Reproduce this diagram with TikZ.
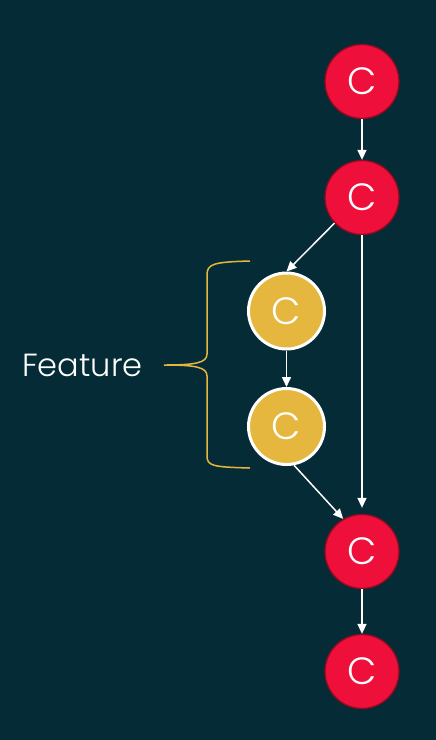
\documentclass[tikz,border=0pt]{standalone}
\usepackage{fontspec}
\setmainfont{Poppins}[UprightFont=* Light]
\usetikzlibrary{arrows.meta}
\definecolor{bg}{HTML}{052B36}
\definecolor{redfill}{HTML}{EE0F3A}
\definecolor{redline}{HTML}{8E0B20}
\definecolor{gold}{HTML}{E6B73E}
\tikzset{
  redc/.style={circle, fill=redfill, draw=redline, line width=1.3pt, minimum size=74pt, inner sep=0pt, text=white, font=\fontsize{38}{38}\selectfont},
  goldc/.style={circle, fill=gold, draw=white, line width=3pt, minimum size=76pt, inner sep=0pt, text=white, font=\fontsize{38}{38}\selectfont},
  arr/.style={draw=white, line width=1.5pt, -{Triangle[length=10pt,width=9pt]}},
  brace/.style={draw=gold, line width=1.5pt},
  lbl/.style={text=white, font=\fontsize{32}{32}\selectfont, inner sep=0pt, anchor=base west}
}
\begin{document}
\begin{tikzpicture}[x=1pt,y=-1pt]
\fill[bg] (0,0) rectangle (436,740);
\useasboundingbox (0,0) rectangle (436,740);
\node[redc] (r1) at (362,81.5) {C};
\node[redc] (r2) at (362,197.5) {C};
\node[goldc] (y1) at (286.5,311) {C};
\node[goldc] (y2) at (286.5,426.5) {C};
\node[redc] (r3) at (362,551.5) {C};
\node[redc] (r4) at (362,671.5) {C};
\draw[arr] (r1) -- (r2);
\draw[arr] (r2.223) -- (y1.north);
\draw[arr] (y1) -- (y2);
\draw[arr, shorten >=6pt] (r2.south) -- (r3.north);
\draw[arr] (y2.-79) -- (r3.120);
\draw[arr] (r3) -- (r4);
\coordinate (bt) at (250,261);
\coordinate (bm) at (164,365);
\coordinate (bb) at (250,468);
\draw[brace] (bt) .. controls (213,262) and (207,264) .. (207,275) -- (207,354)
  .. controls (207,363) and (195,365) .. (bm)
  .. controls (195,365) and (207,367) .. (207,376) -- (207,456)
  .. controls (207,466) and (213,467) .. (bb);
\node[lbl] (feat) at (22,376) {Feature};
\end{tikzpicture}
\end{document}
